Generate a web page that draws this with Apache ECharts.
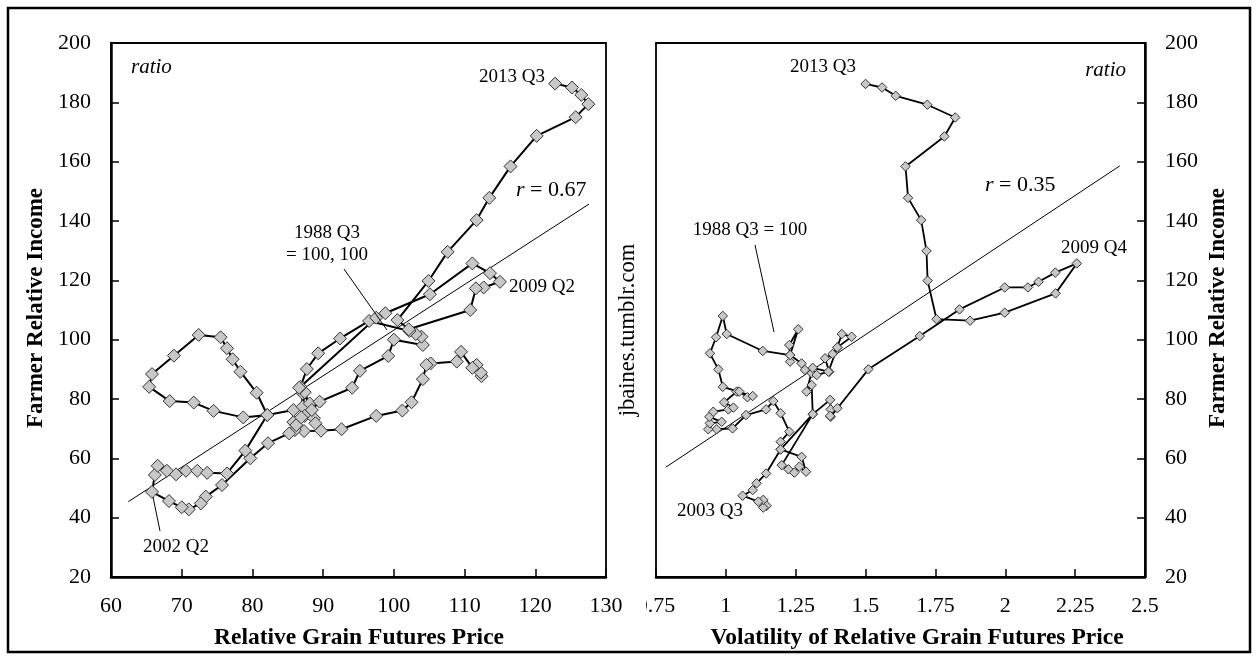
<!DOCTYPE html>
<html>
<head>
<meta charset="utf-8">
<script src="https://cdn.jsdelivr.net/npm/echarts@6/dist/echarts.min.js"></script>
<style>
html,body{margin:0;padding:0;background:#fff;}
#c{width:1256px;height:660px;}
</style>
</head>
<body>
<div id="c"></div>
<script>
// ---- Left panel: Relative Grain Futures Price vs Farmer Relative Income ----
const leftPrice = [112.4,112.3,111.7,111.1,109.5,108.9,105.2,104.6,104.1,102.5,101.2,97.5,92.6,89.7,87.3,86.0,85.8,86.2,85.2,82.2,79.7,75.7,73.4,72.7,71.0,70.0,68.2,65.8,66.2,66.6,67.9,69.2,70.6,72.2,73.6,76.4,79.0,82.1,80.6,78.3,77.2,76.4,75.5,72.4,68.9,65.8,65.4,68.3,71.7,74.5,78.7,82.1,85.8,87.1,87.4,88.1,87.1,86.9,87.4,88.7,88.9,88.4,89.5,94.1,95.2,99.2,100.0,104.1,103.9,103.1,102.2,96.5,92.4,89.3,87.7,86.8,86.6,97.5,98.8,105.1,111.1,113.6,115.0,112.7,111.6,110.8,102.1,100.5,104.9,107.6,111.7,113.5,116.5,120.2,125.7,127.5,126.5,125.2,122.8];
const leftIncome = [87.7,88.9,91.5,90.5,95.9,92.6,92.0,91.5,86.7,78.9,76.1,74.3,69.8,69.3,69.2,69.5,72.2,71.2,68.4,65.1,60.0,51.0,47.1,44.8,42.8,43.5,45.6,48.7,54.4,57.5,55.8,54.6,55.8,55.8,55.1,54.9,62.6,74.6,82.1,89.2,93.4,97.1,100.8,101.6,94.6,88.4,84.1,79.3,78.8,76.0,73.8,74.6,76.3,77.4,74.3,78.5,81.9,73.8,82.3,73.5,71.8,76.3,79.1,83.8,89.5,94.5,100.0,98.2,101.0,101.9,102.9,106.3,100.4,95.4,90.1,84.1,83.8,107.4,108.9,115.3,125.7,122.4,119.5,117.6,117.3,110.0,103.5,106.6,119.8,129.6,140.3,147.8,158.4,168.7,175.0,179.4,182.5,185.0,186.3];

// ---- Right panel: Volatility of Relative Grain Futures Price vs Farmer Relative Income ----
const rightVol = [1.146,1.134,1.134,1.116,1.060,1.096,1.110,1.144,1.196,1.196,1.227,1.196,1.170,1.144,1.072,1.024,0.967,0.937,0.943,0.985,0.941,0.955,1.009,1.027,0.994,1.039,1.048,1.077,1.096,0.989,0.973,0.943,0.965,0.989,1.003,1.132,1.230,1.259,1.227,1.230,1.230,1.271,1.283,1.307,1.325,1.370,1.355,1.382,1.399,1.415,1.450,1.399,1.367,1.311,1.289,1.307,1.311,1.200,1.224,1.245,1.263,1.287,1.271,1.196,1.311,1.373,1.375,1.399,1.375,1.373,1.510,1.694,1.836,1.998,2.081,2.119,2.179,2.256,2.180,1.998,1.874,1.754,1.722,1.718,1.699,1.652,1.643,1.782,1.821,1.721,1.608,1.559,1.500];
const rightIncome = [44.0,43.4,46.0,45.4,47.4,49.3,51.6,54.9,63.0,65.6,69.0,75.2,79.3,76.5,74.6,70.1,69.8,69.8,71.8,72.3,74.0,75.7,76.5,77.1,78.9,82.5,82.5,80.6,81.0,84.1,90.0,95.4,100.8,108.0,101.9,96.2,94.8,103.5,98.2,92.6,94.8,92.0,89.8,88.7,88.1,89.2,93.7,95.2,97.4,101.9,101.0,97.4,89.2,90.5,82.5,84.7,74.9,57.7,56.3,55.2,57.2,55.5,60.5,63.0,74.9,79.7,76.5,76.9,74.0,74.3,90.0,101.2,110.2,117.6,117.6,119.5,122.6,125.7,115.6,109.1,106.4,106.9,119.9,129.9,140.3,147.8,158.4,168.5,174.9,179.2,182.2,185.0,186.2];

const fitLeftX = [62.45, 127.6];
const fitLeftY = [45.4, 145.7];
const fitRightX = [0.785, 2.41];
const fitRightY = [57.0, 158.6];

const incomeTicks = {min:20, max:200, interval:20};
const priceTicks = {min:60, max:130, interval:10};
const volTicks = {min:0.75, max:2.5, interval:0.25};

const FONT = 'Liberation Serif';
const chart = echarts.init(document.getElementById('c'), null, {renderer:'canvas'});

function zip(a,b){ return a.map((v,i)=>[v,b[i]]); }

const axisCommon = {
  axisLine:{show:true, onZero:false, lineStyle:{color:'#000', width:2.5}},
  axisTick:{show:true, inside:true, length:8, lineStyle:{color:'#000', width:1.5}},
  splitLine:{show:false},
  axisLabel:{color:'#000', fontFamily:FONT, fontSize:22}
};

const option = {
  animation:false,
  backgroundColor:'#fff',
  grid:[
    {left:111, right:650, top:43, bottom:83, show:true, borderColor:'#000', borderWidth:1.8},
    {left:656, right:111, top:43, bottom:83, show:true, borderColor:'#000', borderWidth:1.8}
  ],
  xAxis:[
    Object.assign({}, axisCommon, {gridIndex:0, type:'value', min:priceTicks.min, max:priceTicks.max, interval:priceTicks.interval,
      axisLabel:Object.assign({}, axisCommon.axisLabel, {margin:18})}),
    Object.assign({}, axisCommon, {gridIndex:1, type:'value', min:volTicks.min, max:volTicks.max, interval:volTicks.interval,
      axisLabel:Object.assign({}, axisCommon.axisLabel, {margin:18})})
  ],
  yAxis:[
    Object.assign({}, axisCommon, {gridIndex:0, type:'value', min:incomeTicks.min, max:incomeTicks.max, interval:incomeTicks.interval,
      axisLabel:Object.assign({}, axisCommon.axisLabel, {margin:20})}),
    Object.assign({}, axisCommon, {gridIndex:1, type:'value', position:'right', min:incomeTicks.min, max:incomeTicks.max, interval:incomeTicks.interval,
      axisLabel:Object.assign({}, axisCommon.axisLabel, {margin:20})})
  ],
  series:[
    {type:'line', xAxisIndex:0, yAxisIndex:0, data:zip(fitLeftX, fitLeftY), symbol:'none', lineStyle:{color:'#000', width:1}, z:1},
    {type:'line', xAxisIndex:1, yAxisIndex:1, data:zip(fitRightX, fitRightY), symbol:'none', lineStyle:{color:'#000', width:1}, z:1},
    {type:'line', xAxisIndex:0, yAxisIndex:0, data:zip(leftPrice, leftIncome), symbol:'diamond', symbolSize:13,
      lineStyle:{color:'#000', width:2}, itemStyle:{color:'#c8c8c8', borderColor:'#333', borderWidth:1}, z:3},
    {type:'line', xAxisIndex:1, yAxisIndex:1, data:zip(rightVol, rightIncome), symbol:'diamond', symbolSize:9.5,
      lineStyle:{color:'#000', width:1.8}, itemStyle:{color:'#c8c8c8', borderColor:'#333', borderWidth:1}, z:3}
  ],
  graphic:[
    {type:'rect', shape:{x:8,y:8,width:1242,height:644}, style:{fill:'none', stroke:'#000', lineWidth:2.5}, z:100},
    {type:'rect', shape:{x:628,y:592,width:18,height:28}, style:{fill:'#fff'}, z:100},
    // axis titles
    {type:'text', x:36, y:308, rotation:Math.PI/2, style:{text:'Farmer Relative Income', font:'bold 23px '+FONT, fill:'#000', textAlign:'center', textVerticalAlign:'middle'}, z:100},
    {type:'text', x:1218, y:308, rotation:Math.PI/2, style:{text:'Farmer Relative Income', font:'bold 23px '+FONT, fill:'#000', textAlign:'center', textVerticalAlign:'middle'}, z:100},
    {type:'text', x:359, y:638, style:{text:'Relative Grain Futures Price', font:'bold 23.5px '+FONT, fill:'#000', textAlign:'center', textVerticalAlign:'middle'}, z:100},
    {type:'text', x:917, y:638, style:{text:'Volatility of Relative Grain Futures Price', font:'bold 23.5px '+FONT, fill:'#000', textAlign:'center', textVerticalAlign:'middle'}, z:100},
    {type:'text', x:628, y:330, rotation:Math.PI/2, style:{text:'jbaines.tumblr.com', font:'22.5px '+FONT, fill:'#000', textAlign:'center', textVerticalAlign:'middle'}, z:100},
    // left annotations
    {type:'text', x:131, y:67, style:{text:'ratio', font:'italic 21px '+FONT, fill:'#000', textAlign:'left', textVerticalAlign:'middle'}, z:100},
    {type:'text', x:545, y:77, style:{text:'2013 Q3', font:'19px '+FONT, fill:'#000', textAlign:'right', textVerticalAlign:'middle'}, z:100},
    {type:'text', x:516, y:190, style:{rich:{i:{font:'italic 22px '+FONT, fill:'#000'}, n:{font:'22px '+FONT, fill:'#000'}}, text:'{i|r}{n| = 0.67}', textAlign:'left', textVerticalAlign:'middle'}, z:100},
    {type:'text', x:327, y:233, style:{text:'1988 Q3', font:'19px '+FONT, fill:'#000', textAlign:'center', textVerticalAlign:'middle'}, z:100},
    {type:'text', x:327, y:255, style:{text:'= 100, 100', font:'19px '+FONT, fill:'#000', textAlign:'center', textVerticalAlign:'middle'}, z:100},
    {type:'line', shape:{x1:344,y1:269,x2:387,y2:330}, style:{stroke:'#000', lineWidth:1}, z:100},
    {type:'text', x:509, y:287, style:{text:'2009 Q2', font:'19px '+FONT, fill:'#000', textAlign:'left', textVerticalAlign:'middle'}, z:100},
    {type:'text', x:143, y:547, style:{text:'2002 Q2', font:'19px '+FONT, fill:'#000', textAlign:'left', textVerticalAlign:'middle'}, z:100},
    {type:'line', shape:{x1:160,y1:531,x2:153,y2:497}, style:{stroke:'#000', lineWidth:1}, z:100},
    // right annotations
    {type:'text', x:1126, y:70, style:{text:'ratio', font:'italic 21px '+FONT, fill:'#000', textAlign:'right', textVerticalAlign:'middle'}, z:100},
    {type:'text', x:823, y:67, style:{text:'2013 Q3', font:'19px '+FONT, fill:'#000', textAlign:'center', textVerticalAlign:'middle'}, z:100},
    {type:'text', x:985, y:185, style:{rich:{i:{font:'italic 22px '+FONT, fill:'#000'}, n:{font:'22px '+FONT, fill:'#000'}}, text:'{i|r}{n| = 0.35}', textAlign:'left', textVerticalAlign:'middle'}, z:100},
    {type:'text', x:750, y:230, style:{text:'1988 Q3 = 100', font:'19px '+FONT, fill:'#000', textAlign:'center', textVerticalAlign:'middle'}, z:100},
    {type:'line', shape:{x1:755,y1:245,x2:774,y2:332}, style:{stroke:'#000', lineWidth:1}, z:100},
    {type:'text', x:1094, y:248, style:{text:'2009 Q4', font:'19px '+FONT, fill:'#000', textAlign:'center', textVerticalAlign:'middle'}, z:100},
    {type:'text', x:710, y:511, style:{text:'2003 Q3', font:'19px '+FONT, fill:'#000', textAlign:'center', textVerticalAlign:'middle'}, z:100}
  ]
};
chart.setOption(option);
</script>
</body>
</html>
